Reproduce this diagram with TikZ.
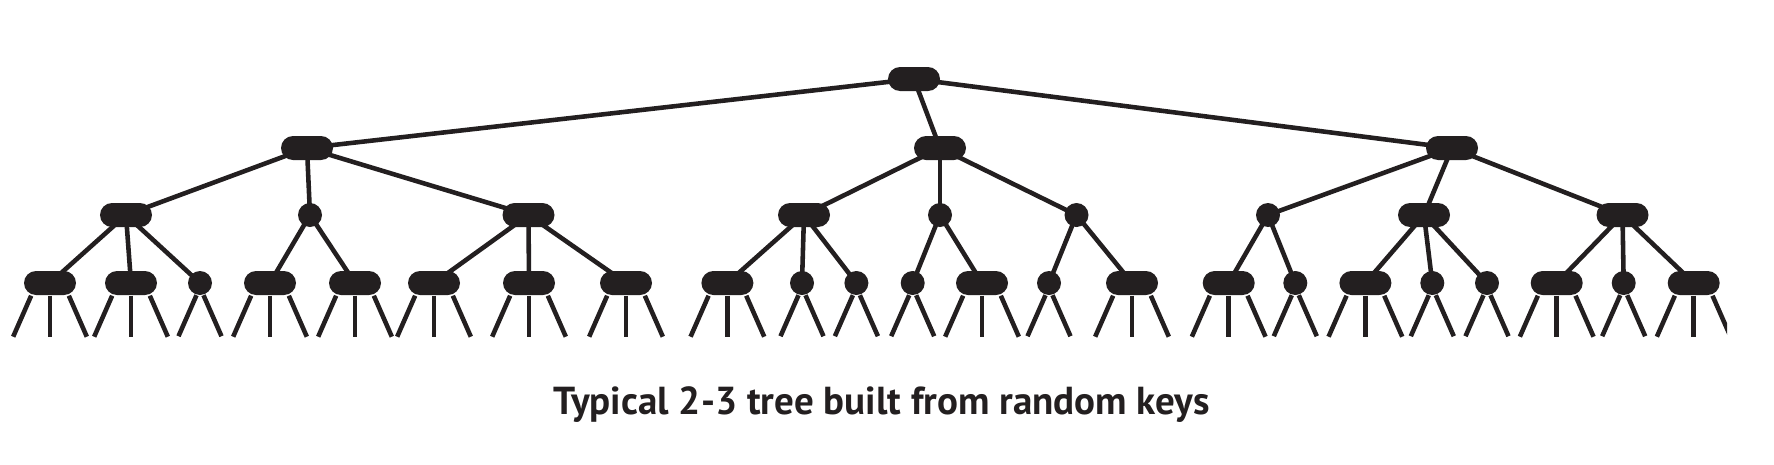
\documentclass[tikz,border=0pt]{standalone}
\usepackage{fontspec}
\setsansfont{PT Sans}
\usetikzlibrary{backgrounds}
\definecolor{treeink}{HTML}{231F20}

\begin{document}
\begin{tikzpicture}[
	n_three/.style={
		rectangle,
		minimum width=5.2mm,
		minimum height=2.4mm,
		inner sep=0pt,
		fill=treeink,
		rounded corners=1.2mm,
		},
	n_two/.style={
		circle,
		minimum size=2.4mm,
		inner sep=0pt,
		fill=treeink,
		},
	every edge/.style={draw=treeink, line width=1.3pt},
	leaf/.style={draw=treeink, line width=1.3pt},
	]

	\useasboundingbox (0,0) rectangle (17.74,4.64);
	\clip (0,0) rectangle (17.27,4.64);

	% root and first level
	\node(root)[n_three] at (9.14,3.85) {};
	\node(l)[n_three] at (3.07,3.16) {};
	\node(m)[n_three] at (9.40,3.16) {};
	\node(r)[n_three] at (14.52,3.16) {};

	% second level
	\node(la)[n_three] at (1.26,2.49) {};
	\node(lb)[n_two] at (3.10,2.49) {};
	\node(lc)[n_three] at (5.285,2.49) {};
	\node(ma)[n_three] at (8.04,2.49) {};
	\node(mb)[n_two] at (9.40,2.49) {};
	\node(mc)[n_two] at (10.765,2.49) {};
	\node(ra)[n_two] at (12.68,2.49) {};
	\node(rb)[n_three] at (14.24,2.49) {};
	\node(rc)[n_three] at (16.225,2.49) {};

	% bottom level
	\node(laa)[n_three] at (0.50,1.81) {};
	\node(lab)[n_three] at (1.31,1.81) {};
	\node(lac)[n_two] at (2.00,1.81) {};
	\node(lba)[n_three] at (2.70,1.81) {};
	\node(lbb)[n_three] at (3.55,1.81) {};
	\node(lca)[n_three] at (4.34,1.81) {};
	\node(lcb)[n_three] at (5.29,1.81) {};
	\node(lcc)[n_three] at (6.26,1.81) {};
	\node(maa)[n_three] at (7.274,1.81) {};
	\node(mab)[n_two] at (8.02,1.81) {};
	\node(mac)[n_two] at (8.564,1.81) {};
	\node(mba)[n_two] at (9.127,1.81) {};
	\node(mbb)[n_three] at (9.82,1.81) {};
	\node(mca)[n_two] at (10.49,1.81) {};
	\node(mcb)[n_three] at (11.32,1.81) {};
	\node(raa)[n_three] at (12.287,1.81) {};
	\node(rab)[n_two] at (12.953,1.81) {};
	\node(rba)[n_three] at (13.654,1.81) {};
	\node(rbb)[n_two] at (14.323,1.81) {};
	\node(rbc)[n_two] at (14.87,1.81) {};
	\node(rca)[n_three] at (15.567,1.81) {};
	\node(rcb)[n_two] at (16.237,1.81) {};
	\node(rcc)[n_three] at (16.937,1.81) {};

	\begin{scope}[on background layer]
	\path (root.center) edge (l.center) edge (m.center) edge (r.center);
	\path (l.center) edge (la.center) edge (lb.center) edge (lc.center);
	\path (m.center) edge (ma.center) edge (mb.center) edge (mc.center);
	\path (r.center) edge (ra.center) edge (rb.center) edge (rc.center);
	\path (la.center) edge (laa.center) edge (lab.center) edge (lac.center);
	\path (lb.center) edge (lba.center) edge (lbb.center);
	\path (lc.center) edge (lca.center) edge (lcb.center) edge (lcc.center);
	\path (ma.center) edge (maa.center) edge (mab.center) edge (mac.center);
	\path (mb.center) edge (mba.center) edge (mbb.center);
	\path (mc.center) edge (mca.center) edge (mcb.center);
	\path (ra.center) edge (raa.center) edge (rab.center);
	\path (rb.center) edge (rba.center) edge (rbb.center) edge (rbc.center);
	\path (rc.center) edge (rca.center) edge (rcb.center) edge (rcc.center);
	\end{scope}

	% null links
	\foreach \n in {laa,lab,lba,lbb,lca,lcb,lcc,maa,mbb,mcb,raa,rba,rca,rcc} {
		\draw[leaf] (\n.-146) -- ++(-0.18,-0.41);
		\draw[leaf] (\n.south) -- ++(0,-0.41);
		\draw[leaf] (\n.-34) -- ++(0.18,-0.41);
	}
	\foreach \n in {lac,mab,mac,mba,mca,rab,rbb,rbc,rcb} {
		\draw[leaf] (\n.-106) -- ++(-0.18,-0.41);
		\draw[leaf] (\n.-74) -- ++(0.18,-0.41);
	}

	\node(caption)[anchor=base, text=treeink, font=\sffamily\bfseries\fontsize{11.1}{13}\selectfont]
		at (8.82,0.50) {Typical 2-3 tree built from random keys};

\end{tikzpicture}
\end{document}
